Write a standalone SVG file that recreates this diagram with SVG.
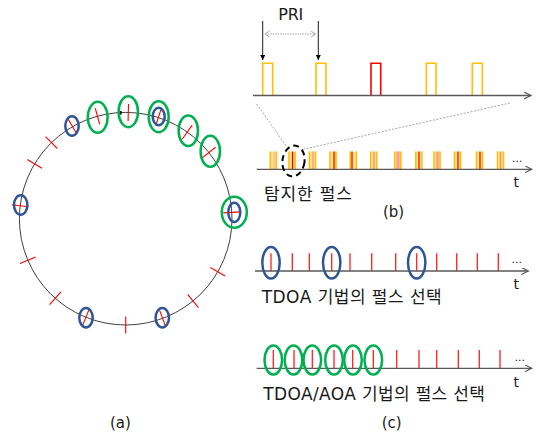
<svg xmlns="http://www.w3.org/2000/svg" xmlns:xlink="http://www.w3.org/1999/xlink" width="539" height="435" viewBox="0 0 539 435">
<style>
.txt{font-family:"DejaVu Sans","Noto Sans CJK KR",sans-serif;fill:#1a1a1a}
.axis{stroke:#595959;stroke-width:1.3;fill:none;marker-end:url(#chev)}
.tick{stroke:#FF0000;stroke-width:1.1}
.ctick{stroke:#FF2020;stroke-width:1.3}
.grn{fill:none;stroke:#00B050;stroke-width:2.5}
.blu{fill:none;stroke:#2F5597;stroke-width:2.5}
.pulse{fill:none;stroke:#FFC000;stroke-width:1.6}
.pulse.red{stroke:#FF0000}
.zoomline{stroke:#A6A6A6;stroke-width:1;stroke-dasharray:2 1.5;fill:none}
</style>
<defs>
<marker id="chev" markerUnits="userSpaceOnUse" markerWidth="10" markerHeight="10" refX="7" refY="3.5" orient="auto">
<path d="M0,0 L7,3.5 L0,7" fill="none" stroke="#595959" stroke-width="1.2"/>
</marker>
<marker id="tri" markerUnits="userSpaceOnUse" markerWidth="8" markerHeight="8" refX="5" refY="2.5" orient="auto">
<path d="M0,0 L5,2.5 L0,5 Z" fill="#000"/>
</marker>
<marker id="gchev" markerUnits="userSpaceOnUse" markerWidth="8" markerHeight="8" refX="4.5" refY="3" orient="auto-start-reverse">
<path d="M0,0 L4.5,3 L0,6" fill="none" stroke="#A6A6A6" stroke-width="1"/>
</marker>
<line id="tk" x1="125.7" y1="103.9" x2="125.7" y2="120.9" class="tick"/>
<g id="grp">
<rect x="-3.7" y="151.5" width="7.4" height="17.8" fill="#FFE699"/>
<line x1="-3" y1="151.5" x2="-3" y2="169.3" stroke="#FFC000" stroke-width="1.5"/>
<line x1="3" y1="151.5" x2="3" y2="169.3" stroke="#FFC000" stroke-width="1.5"/>
</g>
</defs>

<g id="panel-a">
<circle cx="125.7" cy="218.7" r="106.3" fill="none" stroke="#404040" stroke-width="1"/>
<g id="ticks-a">
<use xlink:href="#tk" transform="rotate(1.4 125.7 218.7)"/>
<use xlink:href="#tk" transform="rotate(17.9 125.7 218.7)"/>
<use xlink:href="#tk" transform="rotate(35.4 125.7 218.7)"/>
<use xlink:href="#tk" transform="rotate(51.5 125.7 218.7)"/>
<use xlink:href="#tk" transform="rotate(86.6 125.7 218.7)"/>
<use xlink:href="#tk" transform="rotate(120 125.7 218.7)"/>
<use xlink:href="#tk" transform="rotate(140.7 125.7 218.7)"/>
<use xlink:href="#tk" transform="rotate(159.7 125.7 218.7)"/>
<use xlink:href="#tk" transform="rotate(180 125.7 218.7)"/>
<use xlink:href="#tk" transform="rotate(-158 125.7 218.7)"/>
<use xlink:href="#tk" transform="rotate(-138.5 125.7 218.7)"/>
<use xlink:href="#tk" transform="rotate(-113 125.7 218.7)"/>
<use xlink:href="#tk" transform="rotate(-83 125.7 218.7)"/>
<use xlink:href="#tk" transform="rotate(-59 125.7 218.7)"/>
<use xlink:href="#tk" transform="rotate(-44.3 125.7 218.7)"/>
<use xlink:href="#tk" transform="rotate(-30 125.7 218.7)"/>
<use xlink:href="#tk" transform="rotate(-15.4 125.7 218.7)"/>
</g>
<rect x="119" y="111" width="2.6" height="3.6" fill="#000"/>
<g id="sel-a">
<ellipse class="grn" cx="128.3" cy="111.7" rx="9.7" ry="15.5"/>
<ellipse class="grn" cx="97.7" cy="117.3" rx="9.9" ry="15.5"/>
<ellipse class="grn" cx="158.7" cy="116.7" rx="10" ry="15.5"/>
<ellipse class="blu" cx="158.7" cy="116.5" rx="6" ry="8.7"/>
<ellipse class="grn" cx="188.3" cy="130.7" rx="9.7" ry="15.3"/>
<ellipse class="grn" cx="210.3" cy="151.3" rx="9.7" ry="15.5"/>
<ellipse class="grn" cx="234.3" cy="212.3" rx="12.5" ry="15.5"/>
<ellipse class="blu" cx="234.3" cy="212.3" rx="6" ry="9.6"/>
<ellipse class="blu" cx="72" cy="126" rx="6.7" ry="9.7"/>
<ellipse class="blu" cx="20.7" cy="205" rx="6.7" ry="9.7"/>
<ellipse class="blu" cx="86" cy="317.7" rx="6.7" ry="9.7"/>
<ellipse class="blu" cx="162.3" cy="317.7" rx="6.7" ry="9.7"/>
</g>
<text class="txt" x="110" y="428" font-size="15">(a)</text>
</g>

<g id="panel-b">
<g id="pri-label">
<text class="txt" x="278.3" y="19.5" font-size="16" textLength="25">PRI</text>
</g>
<g id="pulse-train">
<path class="pulse" d="M262.7,95.5 V63.3 H272.7 V95.5"/>
<path class="pulse" d="M316,95.5 V63.3 H326 V95.5"/>
<path class="pulse red" d="M371,95.5 V63.3 H380.7 V95.5"/>
<path class="pulse" d="M426.3,95.5 V63.3 H436 V95.5"/>
<path class="pulse" d="M472.3,95.5 V63.3 H482.3 V95.5"/>
<line class="axis" x1="253" y1="95.5" x2="531" y2="95.5"/>
</g>
<g id="detected-train">
<use xlink:href="#grp" transform="translate(273.3 0)"/>
<use xlink:href="#grp" transform="translate(292 0)"/>
<use xlink:href="#grp" transform="translate(312.5 0)"/>
<use xlink:href="#grp" transform="translate(333 0)"/>
<use xlink:href="#grp" transform="translate(353.3 0)"/>
<use xlink:href="#grp" transform="translate(373.7 0)"/>
<use xlink:href="#grp" transform="translate(397.8 0)"/>
<use xlink:href="#grp" transform="translate(418.8 0)"/>
<use xlink:href="#grp" transform="translate(437 0)"/>
<use xlink:href="#grp" transform="translate(457.5 0)"/>
<use xlink:href="#grp" transform="translate(479.5 0)"/>
<use xlink:href="#grp" transform="translate(500.5 0)"/>
<g stroke-width="1.3">
<line x1="274" y1="151.5" x2="274" y2="169.3" stroke="#FFB0A0"/>
<line x1="292.5" y1="151.5" x2="292.5" y2="169.3" stroke="#FF0000"/>
<line x1="313" y1="151.5" x2="313" y2="169.3" stroke="#FF9090"/>
<line x1="334" y1="151.5" x2="334" y2="169.3" stroke="#FF0000"/>
<line x1="352" y1="151.5" x2="352" y2="169.3" stroke="#FF0000"/>
<line x1="374" y1="151.5" x2="374" y2="169.3" stroke="#FF8080"/>
<line x1="398" y1="151.5" x2="398" y2="169.3" stroke="#FF9999" stroke-width="3"/>
<line x1="419" y1="151.5" x2="419" y2="169.3" stroke="#FF0000"/>
<line x1="437.5" y1="151.5" x2="437.5" y2="169.3" stroke="#FF9999" stroke-width="2.5"/>
<line x1="458" y1="151.5" x2="458" y2="169.3" stroke="#FF0000"/>
<line x1="480" y1="151.5" x2="480" y2="169.3" stroke="#FF0000"/>
<line x1="500.5" y1="151.5" x2="500.5" y2="169.3" stroke="#FF8080"/>
</g>
<line class="axis" x1="256.7" y1="169.3" x2="531.7" y2="169.3"/>
<ellipse cx="293.5" cy="161" rx="11" ry="15.5" fill="none" stroke="#000" stroke-width="2" stroke-dasharray="6 4" transform="rotate(8 293.5 161)"/>
<text class="txt" x="512" y="161.5" font-size="11">...</text>
<text class="txt" x="513.5" y="187.3" font-size="14">t</text>
</g>
<text class="txt" x="264" y="199.5" font-size="17" textLength="88">탐지한 펄스</text>
<text class="txt" x="383" y="216.5" font-size="15">(b)</text>
</g>

<g id="panel-c">
<g id="tdoa">
<g class="ctick">
<line x1="271" y1="253.3" x2="271" y2="271"/>
<line x1="292.3" y1="253.3" x2="292.3" y2="271"/>
<line x1="309.3" y1="253.3" x2="309.3" y2="271"/>
<line x1="331.7" y1="253.3" x2="331.7" y2="271"/>
<line x1="350" y1="253.3" x2="350" y2="271"/>
<line x1="371.7" y1="253.3" x2="371.7" y2="271"/>
<line x1="395.7" y1="253.3" x2="395.7" y2="271"/>
<line x1="416.7" y1="253.3" x2="416.7" y2="271"/>
<line x1="436.7" y1="253.3" x2="436.7" y2="271"/>
<line x1="456.7" y1="253.3" x2="456.7" y2="271"/>
<line x1="477.3" y1="253.3" x2="477.3" y2="271"/>
<line x1="498.3" y1="253.3" x2="498.3" y2="271"/>
</g>
<line class="axis" x1="255" y1="271" x2="528.3" y2="271"/>
<ellipse class="blu" cx="271" cy="262.7" rx="8.7" ry="15.8" stroke-width="2"/>
<ellipse class="blu" cx="331.7" cy="262.7" rx="8.7" ry="15.8" stroke-width="2"/>
<ellipse class="blu" cx="416.7" cy="262.7" rx="8.7" ry="15.8" stroke-width="2"/>
<text class="txt" x="511.5" y="263" font-size="11">...</text>
<text class="txt" x="513.5" y="288.7" font-size="14">t</text>
<text class="txt" x="261.7" y="303" font-size="17" textLength="180">TDOA 기법의 펄스 선택</text>
</g>
<g id="tdoa-aoa">
<g class="ctick">
<line x1="273.3" y1="350" x2="273.3" y2="368.3"/>
<line x1="294" y1="350" x2="294" y2="368.3"/>
<line x1="312.3" y1="350" x2="312.3" y2="368.3"/>
<line x1="334" y1="350" x2="334" y2="368.3"/>
<line x1="352.7" y1="350" x2="352.7" y2="368.3"/>
<line x1="373.3" y1="350" x2="373.3" y2="368.3"/>
<line x1="396.7" y1="350" x2="396.7" y2="368.3"/>
<line x1="419" y1="350" x2="419" y2="368.3"/>
<line x1="436.7" y1="350" x2="436.7" y2="368.3"/>
<line x1="458.3" y1="350" x2="458.3" y2="368.3"/>
<line x1="479.3" y1="350" x2="479.3" y2="368.3"/>
<line x1="500" y1="350" x2="500" y2="368.3"/>
</g>
<line class="axis" x1="256.7" y1="368.3" x2="531.7" y2="368.3"/>
<ellipse class="grn" cx="273.3" cy="360" rx="8.8" ry="14.5" stroke-width="2.2"/>
<ellipse class="grn" cx="293.5" cy="360" rx="8.8" ry="14.5" stroke-width="2.2"/>
<ellipse class="grn" cx="312.3" cy="360" rx="8.8" ry="14.5" stroke-width="2.2"/>
<ellipse class="grn" cx="334" cy="360" rx="8.8" ry="14.5" stroke-width="2.2"/>
<ellipse class="grn" cx="353" cy="360" rx="8.8" ry="14.5" stroke-width="2.2"/>
<ellipse class="grn" cx="373.3" cy="360" rx="8.8" ry="14.5" stroke-width="2.2"/>
<text class="txt" x="514.5" y="361" font-size="11">...</text>
<text class="txt" x="513.5" y="386.5" font-size="14">t</text>
<text class="txt" x="263.3" y="400.3" font-size="17" textLength="221.7">TDOA/AOA 기법의 펄스 선택</text>
</g>
<text class="txt" x="381.7" y="428" font-size="15">(c)</text>
</g>

<g id="connectors">
<line x1="262.7" y1="21" x2="262.7" y2="60" stroke="#000" stroke-width="0.9" marker-end="url(#tri)"/>
<line x1="318.3" y1="21" x2="318.3" y2="60" stroke="#000" stroke-width="0.9" marker-end="url(#tri)"/>
<line x1="265" y1="34" x2="315.5" y2="34" stroke="#A6A6A6" stroke-width="1.2" stroke-dasharray="1.5 1" marker-start="url(#gchev)" marker-end="url(#gchev)"/>
<line class="zoomline" x1="256.7" y1="104" x2="286.7" y2="146.7"/>
<line class="zoomline" x1="510" y1="103" x2="303.3" y2="149.3"/>
</g>
</svg>
